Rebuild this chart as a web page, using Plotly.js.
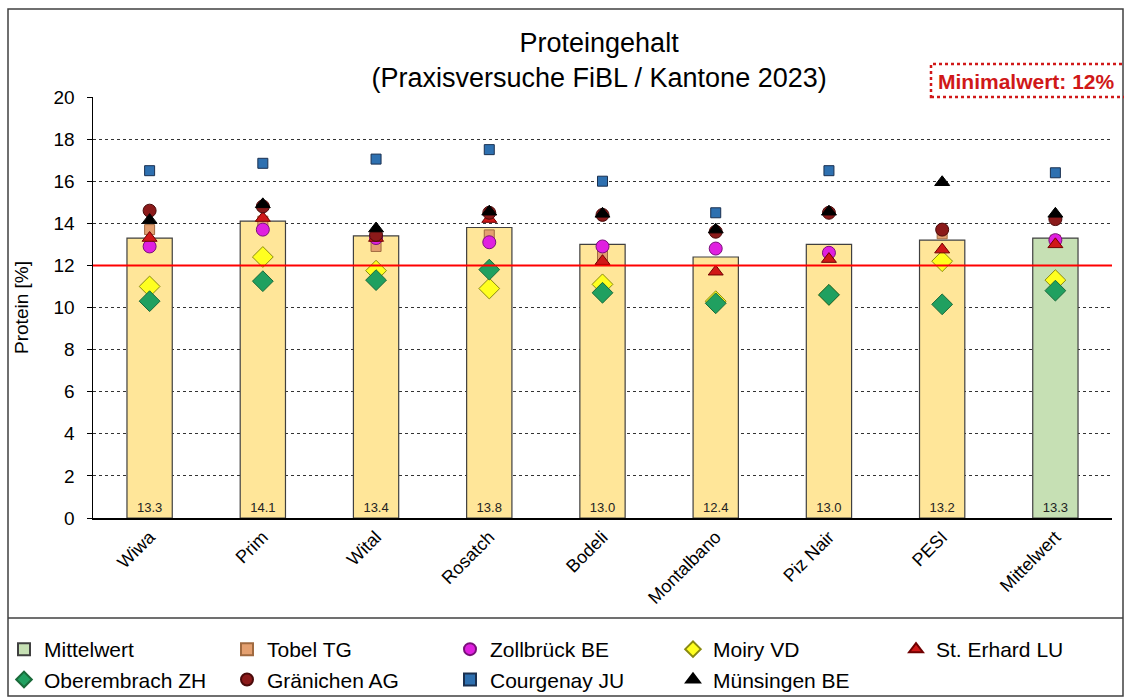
<!DOCTYPE html>
<html>
<head>
<meta charset="utf-8">
<script src="https://cdn.plot.ly/plotly-3.0.1.min.js"></script>
<style>html,body{margin:0;padding:0;background:#fff;}#chart{width:1124px;height:697px;}</style>
</head>
<body>
<div id="chart"></div>
<script>
const categories = ["Wiwa","Prim","Wital","Rosatch","Bodeli","Montalbano","Piz Nair","PESI","Mittelwert"];
const means       = [13.3, 14.1, 13.4, 13.8, 13.0, 12.4, 13.0, 13.2, 13.3];
const tobelTG     = [13.7, 14.1, 12.9, 13.45, 12.45, null, null, 13.5, 13.2];
const zollbrueckBE= [12.9, 13.7, 13.3, 13.1, 12.9, 12.8, 12.6, null, 13.2];
const moiryVD     = [11.0, 12.4, 11.75, 10.9, 11.1, 10.3, 10.6, 12.2, 11.3];
const stErhardLU  = [13.3, 14.25, 13.3, 14.2, 12.2, 11.7, 12.3, 12.75, 13.0];
const oberembrachZH=[10.3, 11.25, 11.3, 11.8, 10.7, 10.2, 10.6, 10.15, 10.8];
const graenichenAG= [14.6, 14.8, 13.45, 14.5, 14.4, 13.6, 14.5, 13.7, 14.2];
const courgenayJU = [16.5, 16.85, 17.05, 17.5, 16.0, 14.5, 16.5, null, 16.4];
const muensingenBE= [14.15, 14.9, 13.75, 14.55, 14.45, 13.7, 14.55, 15.95, 14.45];
const minimalwert = 12;
const yTicks = [0,2,4,6,8,10,12,14,16,18,20];

const FONT = "Liberation Sans, Arial, sans-serif";
const nCat = categories.length;

function pts(name, vals, symbol, size, color, line) {
  return {type:"scatter", mode:"markers", name:name, x:categories, y:vals,
    marker:{symbol:symbol, size:size, color:color, line:{color:line, width:1}},
    cliponaxis:false, hoverinfo:"x+y+name"};
}

const barText = {texttemplate:"%{y:.1f}", textposition:"inside", insidetextanchor:"start",
  textangle:0, textfont:{family:FONT, size:13, color:"#222"}, constraintext:"none"};

const data = [
  Object.assign({type:"bar", name:"Mittelwert", x:categories.slice(nCat-1), y:means.slice(nCat-1),
    width:0.4, marker:{color:"#c6e0b4", line:{color:"#404040", width:1.2}}}, barText),
  Object.assign({type:"bar", name:"Sorten", showlegend:false, x:categories.slice(0,nCat-1), y:means.slice(0,nCat-1),
    width:0.4, marker:{color:"#ffe699", line:{color:"#404040", width:1.2}}}, barText),
  pts("Tobel TG", tobelTG, "square", 10, "#e4a070", "#a06a40"),
  pts("Zollbrück BE", zollbrueckBE, "circle", 13, "#e020e0", "#7a107a"),
  pts("Moiry VD", moiryVD, "diamond", 16, "#ffff20", "#8a8a10"),
  pts("St. Erhard LU", stErhardLU, "triangle-up", 13, "#d01818", "#700000"),
  pts("Oberembrach ZH", oberembrachZH, "diamond", 16, "#20a060", "#1a6a3a"),
  pts("Gränichen AG", graenichenAG, "circle", 13, "#8b1a1a", "#4a0a0a"),
  pts("Courgenay JU", courgenayJU, "square", 10, "#2e70b0", "#1a3050"),
  pts("Münsingen BE", muensingenBE, "triangle-up", 13, "#000000", "#000000")
];

// pixel helpers for paper coordinates (plot: left 93, right 1112, top 97, bottom 518)
const L=93, R=1112, T=97, B=518;
const px = v => (v - L)/(R - L);
const py = v => (B - v)/(B - T);

const layout = {
  width:1124, height:697,
  margin:{l:L, r:1124-R, t:T, b:697-B, autoexpand:false},
  paper_bgcolor:"#fff", plot_bgcolor:"#fff",
  font:{family:FONT, size:18, color:"#000"},
  barmode:"overlay",
  showlegend:true,
  title:{text:"Proteingehalt<br>(Praxisversuche FiBL / Kantone 2023)", font:{family:FONT, size:27, color:"#000"},
    x:0.533, xanchor:"center", y:0.925, yanchor:"top", yref:"container"},
  xaxis:{type:"category", categoryorder:"array", categoryarray:categories, tickangle:-45, showline:true, linecolor:"#000", linewidth:1.5,
    ticks:"", showgrid:false, tickfont:{family:FONT, size:18}, automargin:false, range:[-0.5, nCat-0.5]},
  yaxis:{range:[0,20], tickvals:yTicks, showline:true, linecolor:"#000", linewidth:1.5,
    ticks:"outside", ticklen:5, tickcolor:"#000", showgrid:true, gridcolor:"#333", griddash:"dot", gridwidth:1,
    zeroline:false, tickfont:{family:FONT, size:19}, ticklabelstandoff:8, automargin:false,
    title:{text:"Protein [%]", font:{family:FONT, size:19}, standoff:20}},
  legend:{orientation:"h", x:px(4), y:py(629), yanchor:"top", xanchor:"left",
    entrywidth:178, entrywidthmode:"pixels", itemwidth:30, font:{family:FONT, size:21}, itemsizing:"constant",
    bgcolor:"rgba(0,0,0,0)", tracegroupgap:0, traceorder:"normal"},
  shapes:[
    {type:"line", xref:"paper", yref:"y", x0:0, x1:1, y0:minimalwert, y1:minimalwert, line:{color:"#ff0000", width:2}},
    {type:"rect", xref:"paper", yref:"paper", x0:px(8), x1:px(1123), y0:py(696), y1:py(9), line:{color:"#404040", width:1.5}, fillcolor:"rgba(0,0,0,0)", layer:"below"},
    {type:"line", xref:"paper", yref:"paper", x0:px(8), x1:px(1123), y0:py(618), y1:py(618), line:{color:"#404040", width:1.5}},
    {type:"rect", xref:"paper", yref:"paper", x0:px(931), x1:px(1130), y0:py(97), y1:py(64), line:{color:"#d01818", width:2.5, dash:"dot"}, fillcolor:"rgba(0,0,0,0)"}
  ],
  annotations:[
    {text:"<b>Minimalwert: 12%</b>", xref:"paper", yref:"paper", x:px(936), y:py(81), xanchor:"left", yanchor:"middle",
     showarrow:false, font:{family:FONT, size:21, color:"#d01818"}}
  ]
};

Plotly.newPlot("chart", data, layout, {displayModeBar:false, staticPlot:true});
</script>
</body>
</html>
